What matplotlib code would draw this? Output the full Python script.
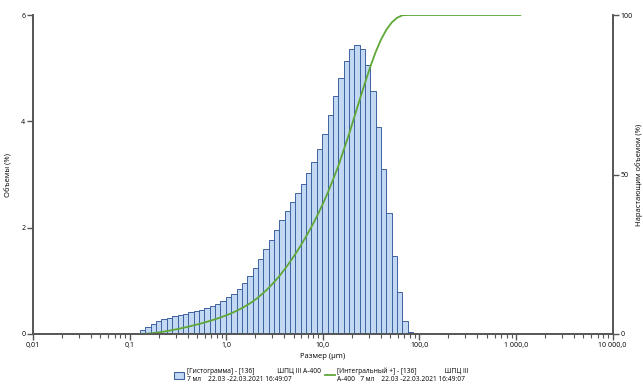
import matplotlib
matplotlib.use("Agg")
import matplotlib.pyplot as plt
from matplotlib.patches import Patch
from matplotlib.lines import Line2D
from matplotlib.ticker import FixedLocator, LogLocator, NullFormatter

plt.rcParams['font.family'] = ['Open Sans', 'DejaVu Sans']

# size classes (µm), bin edges of the analyser from 0.128 to 1110
size_edges = [0.128, 0.146, 0.166, 0.188, 0.214, 0.243, 0.276, 0.314, 0.357, 0.405,
              0.460, 0.523, 0.594, 0.675, 0.767, 0.872, 0.991, 1.13, 1.28, 1.45,
              1.65, 1.88, 2.13, 2.42, 2.75, 3.12, 3.55, 4.03, 4.58, 5.21,
              5.92, 6.72, 7.64, 8.68, 9.86, 11.2, 12.7, 14.5, 16.4, 18.7,
              21.2, 24.1, 27.4, 31.1, 35.3, 40.1, 45.6, 51.8, 58.9, 66.9,
              76.0, 86.4, 98.1, 111, 127, 144, 163, 186, 211, 240,
              272, 310, 352, 400, 454, 516, 586, 666, 756, 859,
              976, 1110]

# volume in each class (%)
volume = [0.075, 0.125, 0.19, 0.24, 0.28, 0.31, 0.33, 0.36, 0.38, 0.41,
          0.43, 0.46, 0.49, 0.53, 0.57, 0.62, 0.69, 0.76, 0.85, 0.96,
          1.10, 1.25, 1.42, 1.59, 1.77, 1.95, 2.14, 2.32, 2.49, 2.66,
          2.83, 3.02, 3.23, 3.48, 3.77, 4.12, 4.47, 4.82, 5.13, 5.36,
          5.43, 5.36, 5.06, 4.57, 3.90, 3.10, 2.27, 1.47, 0.79, 0.24,
          0.03, 0.0, 0.0, 0.0, 0.0, 0.0, 0.0, 0.0, 0.0, 0.0,
          0.0, 0.0, 0.0, 0.0, 0.0, 0.0, 0.0, 0.0, 0.0, 0.0,
          0.0]

# cumulative volume (%) at the upper edge of each class
cum_volume = [0.0, 0.08, 0.2, 0.39, 0.63, 0.91, 1.22, 1.55, 1.91, 2.29, 2.70,
              3.13, 3.59, 4.08, 4.61, 5.18, 5.80, 6.49, 7.25, 8.10, 9.06,
              10.16, 11.41, 12.83, 14.42, 16.19, 18.14, 20.28, 22.60, 25.09, 27.75,
              30.58, 33.60, 36.83, 40.31, 44.08, 48.20, 52.67, 57.49, 62.62, 67.98,
              73.41, 78.77, 83.83, 88.40, 92.30, 95.40, 97.67, 99.14, 99.93, 100.0,
              100.0, 100.0, 100.0, 100.0, 100.0, 100.0, 100.0, 100.0, 100.0, 100.0,
              100.0, 100.0, 100.0, 100.0, 100.0, 100.0, 100.0, 100.0, 100.0, 100.0,
              100.0]

x_ticks = [0.01, 0.1, 1, 10, 100, 1000, 10000]
x_tick_labels = ['0,01', '0,1', '1,0', '10,0', '100,0', '1 000,0', '10 000,0']

legend_hist = '[Гистограмма] - [136]             ШПЦ III А-400\n7 мл    22.03 -22.03.2021 16:49:07'
legend_cum = '[Интегральный +] - [136]                ШПЦ III\nА-400   7 мл    22.03 -22.03.2021 16:49:07'

bar_face = '#c3d8f2'
bar_edge = '#3e62a0'
line_col = '#5fa838'
axis_col = '#555555'

fig = plt.figure(figsize=(6.43, 3.90), dpi=100)
ax = fig.add_axes([0.0513, 0.1436, 0.9013, 0.8179])

widths = [size_edges[i + 1] - size_edges[i] for i in range(len(volume))]
ax.bar(size_edges[:-1], volume, width=widths, align='edge',
       color=bar_face, edgecolor=bar_edge, linewidth=0.7)

ax.set_xscale('log')
ax.set_xlim(0.01, 10000)
ax.set_ylim(0, 6)
ax.set_yticks([0, 2, 4, 6])
ax.xaxis.set_major_locator(FixedLocator(x_ticks))
ax.set_xticklabels(x_tick_labels)
ax.xaxis.set_minor_locator(LogLocator(base=10, subs=range(2, 10)))
ax.xaxis.set_minor_formatter(NullFormatter())

ax2 = ax.twinx()
ax2.plot(size_edges, cum_volume, color=line_col, linewidth=1.3)
ax2.set_ylim(0, 100)
ax2.set_yticks([0, 50, 100])

for a in (ax, ax2):
    a.spines['top'].set_visible(False)
    for s in ('left', 'right', 'bottom'):
        a.spines[s].set_color(axis_col)
        a.spines[s].set_linewidth(1.2)
    a.tick_params(axis='both', which='major', labelsize=5, color=axis_col,
                  length=4, width=1.0, pad=1.5)
    a.tick_params(axis='x', which='minor', color=axis_col, length=3, width=0.8)

ax.set_xlabel('Размер (µm)', fontsize=5.5, labelpad=3)
ax.set_ylabel('Объемы (%)', fontsize=5.5, labelpad=6)
ax2.set_ylabel('Нарастающим объемом (%)', fontsize=5.5, labelpad=2)

handles = [Patch(facecolor=bar_face, edgecolor=bar_edge, linewidth=0.8),
           Line2D([0], [0], color=line_col, linewidth=1.3)]
fig.legend(handles, [legend_hist, legend_cum], loc='center',
           bbox_to_anchor=(0.5, 0.037), ncol=2, frameon=False, fontsize=4.8,
           handlelength=1.5, handleheight=1.2, handletextpad=0.4,
           columnspacing=0.6, labelspacing=0.2)

fig.savefig('out.png', dpi=100)
